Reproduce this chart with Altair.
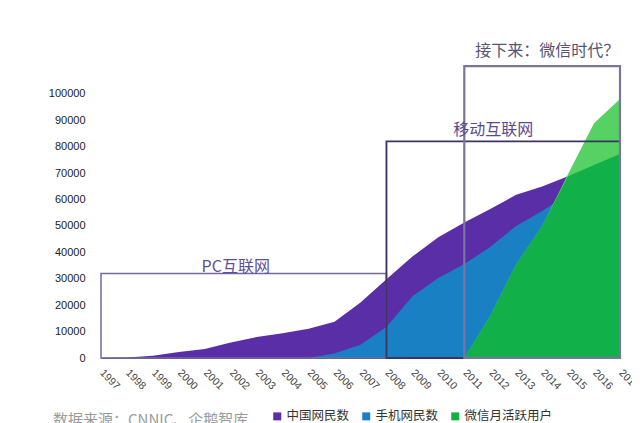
import altair as alt
import pandas as pd

# ---------------- data (values in 10k users) ----------------
years = [1997, 1998, 1999, 2000, 2001, 2002, 2003, 2004, 2005, 2006, 2007,
         2008, 2009, 2010, 2011, 2012, 2013, 2014, 2015, 2016, 2017]
china_users = [62, 210, 890, 2250, 3370, 5910, 7950, 9400, 11100, 13700, 21000,
               29800, 38400, 45700, 51300, 56400, 61800, 64900, 68800, 73100, 77200]
mobile_users = [0, 0, 0, 0, 0, 0, 0, 0, 0, 1700, 5000,
                11760, 23344, 30274, 35558, 41997, 50006, 55678, 61981, 69531, 75265]
wechat_users = [0, 0, 0, 0, 0, 0, 0, 0, 0, 0, 0,
                0, 0, 0, 0, 16000, 35500, 50000, 69700, 88900, 98000]

series_names = ["中国网民数", "手机网民数", "微信月活跃用户"]
series_colors = ["#5a2ea6", "#1a80c4", "#12b048"]
light_green = "#56d163"

era_names = ["PC互联网", "移动互联网", "接下来：微信时代？"]
era_start = [1997, 2008, 2011]
era_end = [2008, 2017, 2017]
era_top = [32000, 82000, 110500]

y_ticks = [0, 10000, 20000, 30000, 40000, 50000, 60000, 70000, 80000, 90000, 100000]
source_text = "数据来源：CNNIC、企鹅智库"

df = pd.DataFrame({"year": years, "china": china_users,
                   "mobile": mobile_users, "wechat": wechat_users})
eras = pd.DataFrame({"name": era_names, "start": era_start,
                     "end": era_end, "top": era_top})

CJK = "Noto Sans CJK SC"
NUM = "Liberation Sans"

xscale = alt.Scale(domain=[1997, 2017], nice=False, zero=False)
yscale = alt.Scale(domain=[0, 120000], nice=False)
cscale = alt.Scale(domain=series_names, range=series_colors)

xaxis = alt.Axis(values=years, format="d", labelAngle=45, labelAlign="left",
                 labelBaseline="middle", labelPadding=13,
                 ticks=False, grid=False, domain=True, domainColor="#555",
                 domainWidth=1, labelFont=NUM, labelFontSize=10.5,
                 labelColor="#444", labelOverlap=False, labelBound=False,
                 title=None)
yaxis = alt.Axis(values=y_ticks, format="d", ticks=False, grid=False,
                 domain=False, labelFont=NUM, labelFontSize=11,
                 labelColor="#222", labelPadding=16, labelOverlap=False,
                 title=None)

legend = alt.Legend(orient="none", legendX=170, legendY=369,
                    direction="horizontal", symbolType="square",
                    symbolSize=64, symbolStrokeWidth=0, labelFont=CJK,
                    labelFontSize=12.5, labelColor="#333", labelOffset=3,
                    columnPadding=10, padding=0, title=None)


def X(field):
    return alt.X(field, scale=xscale, axis=xaxis)


def Y(field):
    return alt.Y(field, scale=yscale, axis=yaxis)


base = alt.Chart(df)
C = alt.Color("series:N", scale=cscale, legend=legend)

purple = base.transform_calculate(series="'%s'" % series_names[0]).mark_area(opacity=1).encode(
    x=X("year:Q"), y=Y("china:Q"), color=C,
)
blue = base.transform_calculate(series="'%s'" % series_names[1]).mark_area(opacity=1).encode(
    x=X("year:Q"), y=Y("mobile:Q"), color=C,
)
green_light = base.mark_area(opacity=1, color=light_green).encode(
    x=X("year:Q"), y=Y("wechat:Q"),
)
green_dark = base.transform_calculate(
    wmin="min(datum.wechat, datum.china)",
    series="'%s'" % series_names[2],
).mark_area(opacity=1).encode(
    x=X("year:Q"), y=Y("wmin:Q"), color=C,
)

boxes = alt.Chart(eras).mark_rect(fillOpacity=0).encode(
    x=X("start:Q"),
    x2="end:Q",
    y=Y("top:Q"),
    y2=alt.datum(0),
    stroke=alt.Stroke("name:N", scale=alt.Scale(domain=era_names,
                      range=["#75699f", "#3e3462", "#7d739f"]), legend=None),
    strokeWidth=alt.StrokeWidth("name:N", scale=alt.Scale(domain=era_names,
                                range=[1.5, 2.2, 1.5]), legend=None),
)


def era_label(i, dx, dy, color):
    return alt.Chart(eras).transform_filter(
        alt.datum.name == era_names[i]
    ).transform_calculate(
        mid="(datum.start + datum.end) / 2"
    ).mark_text(font=CJK, fontSize=16, baseline="bottom", align="center",
                dx=dx, dy=dy, color=color).encode(
        x=X("mid:Q"), y=Y("top:Q"), text="name:N",
    )


lab_pc = era_label(0, -8, 2, "#5e4f9c")
lab_mobile = era_label(1, -10, -3, "#5a4a8e")
lab_wechat = era_label(2, 5, -7, "#555575")

source = alt.Chart(pd.DataFrame({"t": [source_text]})).mark_text(
    font=CJK, fontSize=15, align="left", baseline="top", color="#9a9a9a"
).encode(text="t:N", x=alt.value(-48), y=alt.value(372))

chart = alt.layer(
    purple, blue, green_light, green_dark, boxes,
    lab_pc, lab_mobile, lab_wechat, source
).properties(
    width=519, height=317, background="white",
    autosize=alt.AutoSizeParams(type="none"),
    padding={"left": 93, "top": 33, "right": 12, "bottom": 65},
).resolve_scale(stroke="independent", strokeWidth="independent").configure_view(
    stroke=None
)

chart.save("out.html", embed_options={"renderer": "svg", "actions": False})
